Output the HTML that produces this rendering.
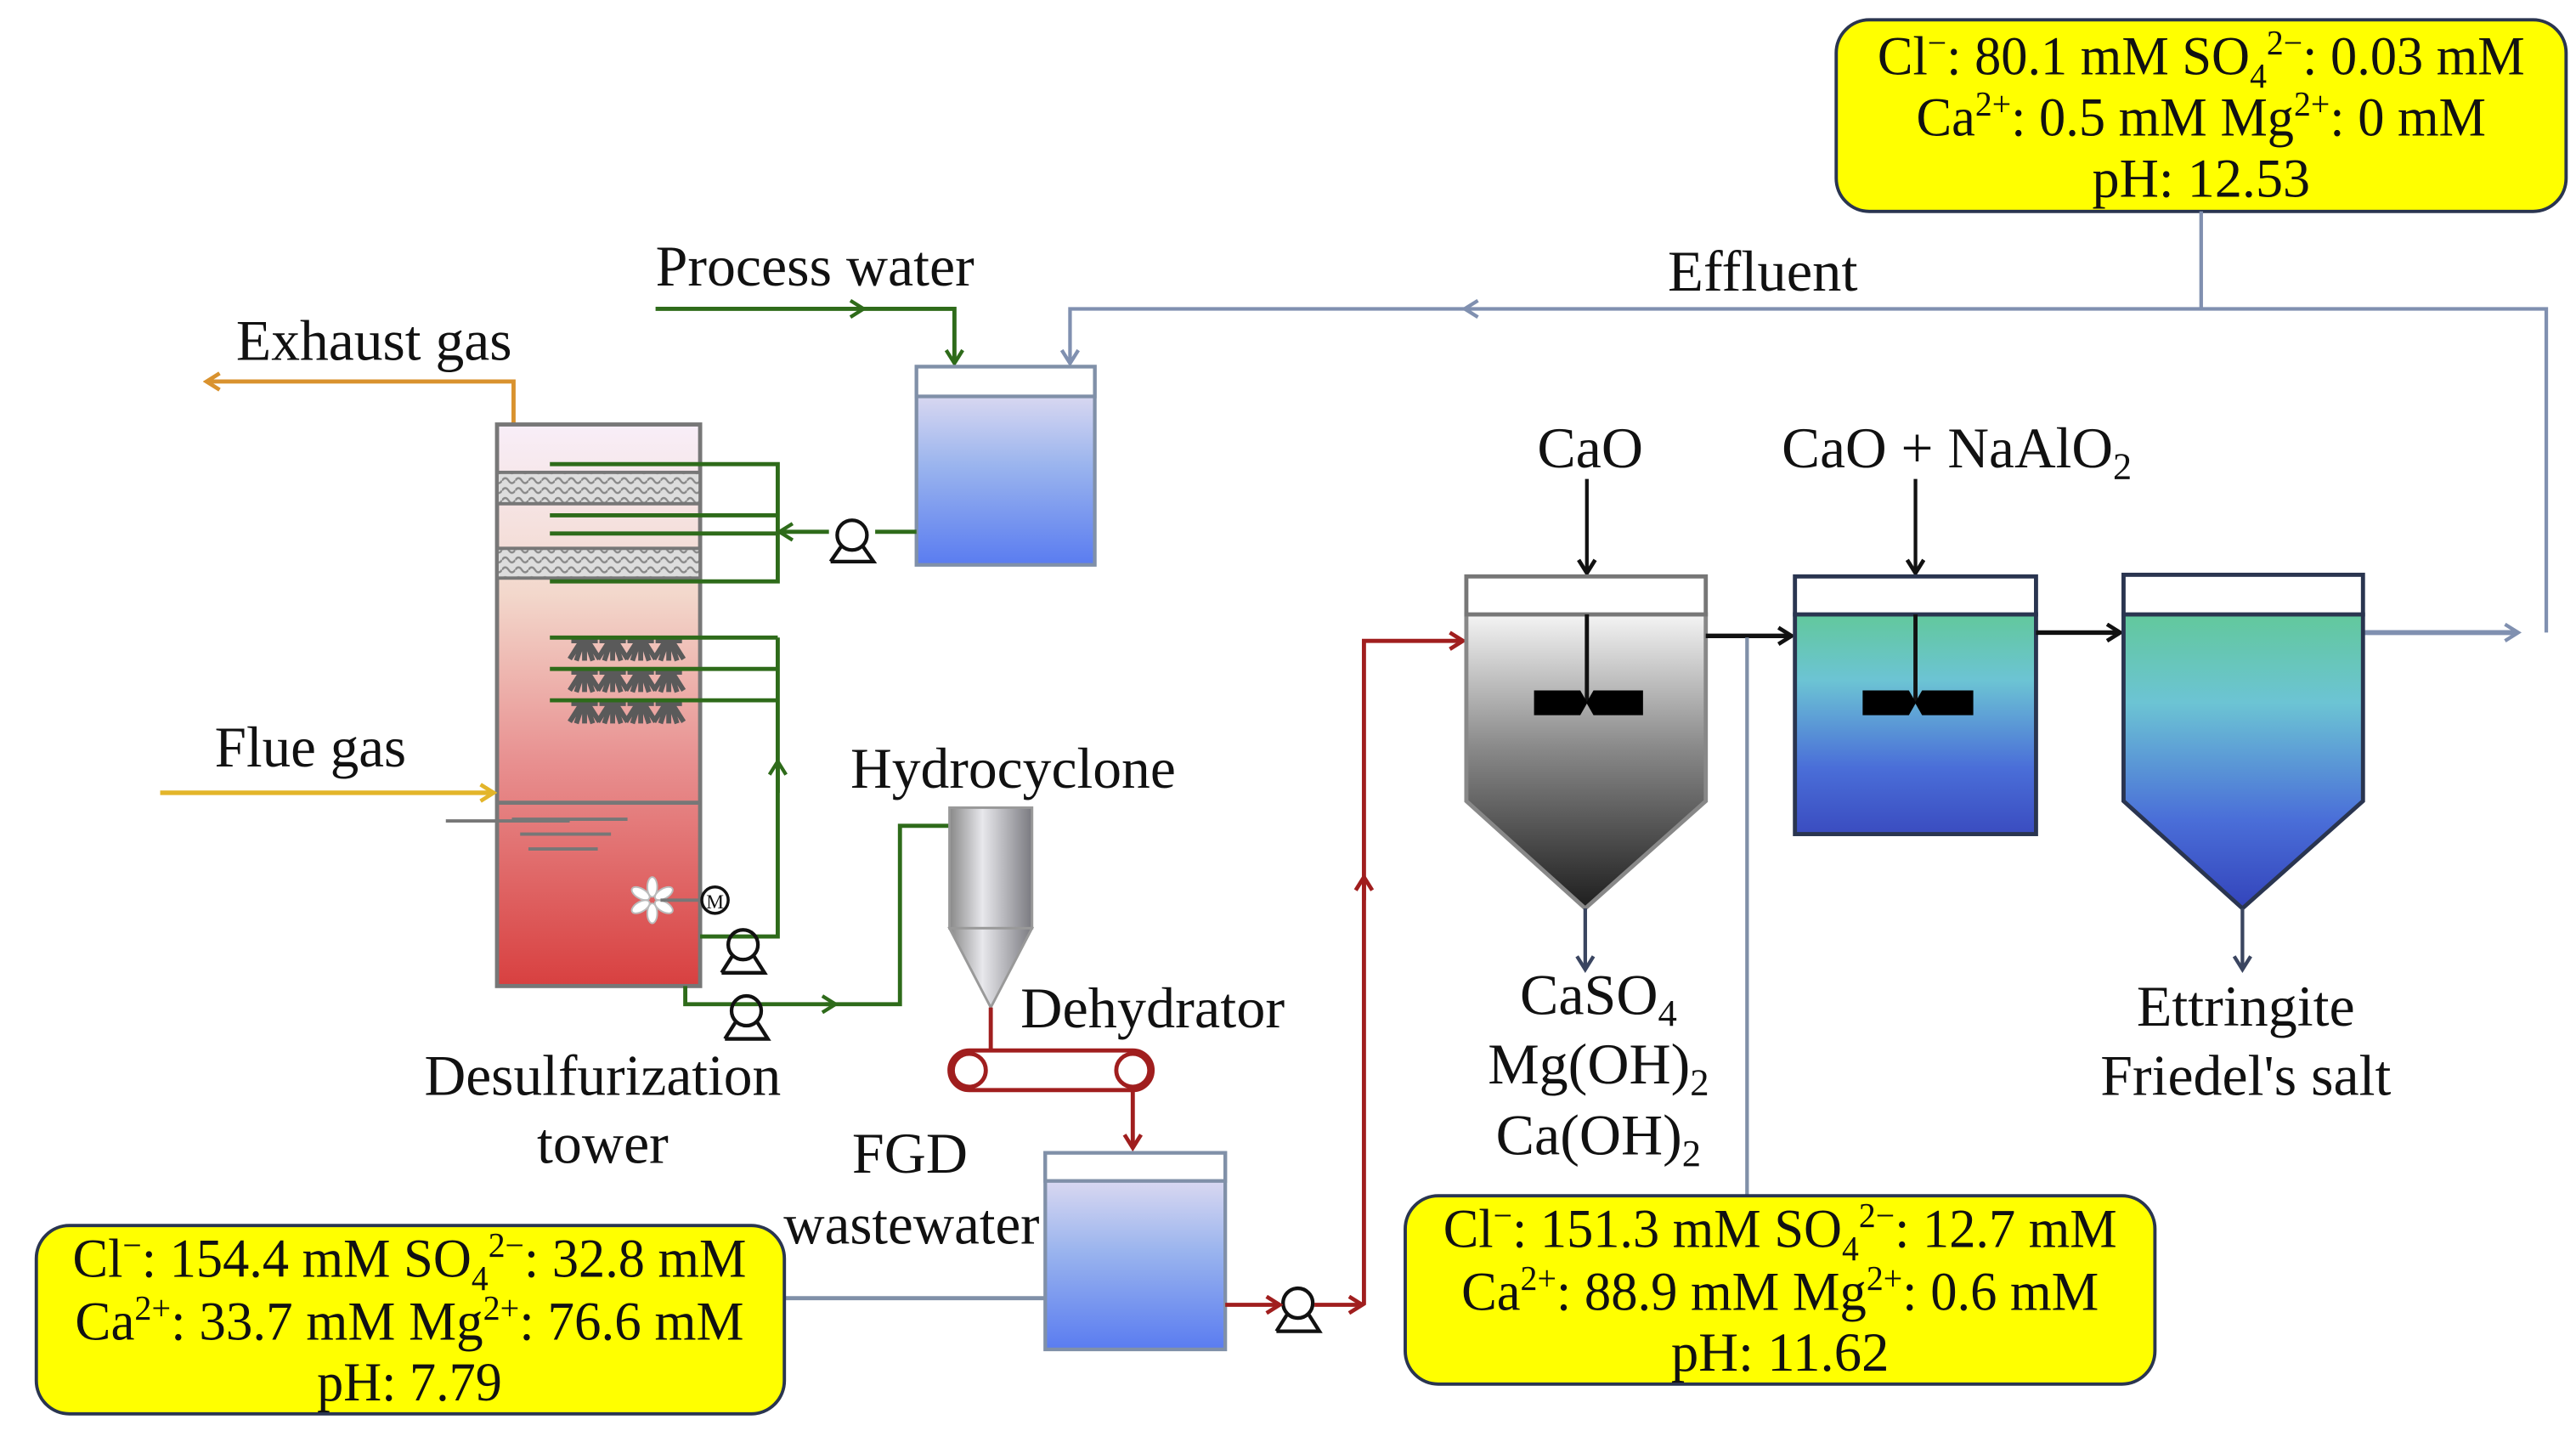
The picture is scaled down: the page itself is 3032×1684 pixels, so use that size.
<!DOCTYPE html>
<html><head><meta charset="utf-8"><style>
html,body{margin:0;padding:0;background:#fff;}
svg{display:block;}
text{font-family:"Liberation Serif",serif;fill:#111;}
</style></head><body>
<svg width="3032" height="1684" viewBox="0 0 1560 866.4" preserveAspectRatio="none" xmlns="http://www.w3.org/2000/svg">
<defs>
<marker id="ag" markerWidth="12" markerHeight="12" refX="9" refY="6" orient="auto" markerUnits="userSpaceOnUse"><path d="M2,1 L10,6 L2,11" fill="none" stroke="#2e6b1a" stroke-width="2.2"/></marker>
<marker id="ab" markerWidth="12" markerHeight="12" refX="9" refY="6" orient="auto" markerUnits="userSpaceOnUse"><path d="M2,1 L10,6 L2,11" fill="none" stroke="#8090b0" stroke-width="2.2"/></marker>
<marker id="ar" markerWidth="12" markerHeight="12" refX="9" refY="6" orient="auto" markerUnits="userSpaceOnUse"><path d="M2,1 L10,6 L2,11" fill="none" stroke="#a01e1e" stroke-width="2.4"/></marker>
<marker id="ak" markerWidth="12" markerHeight="12" refX="9" refY="6" orient="auto" markerUnits="userSpaceOnUse"><path d="M2,1 L10,6 L2,11" fill="none" stroke="#111" stroke-width="2.4"/></marker>
<marker id="ad" markerWidth="12" markerHeight="12" refX="9" refY="6" orient="auto" markerUnits="userSpaceOnUse"><path d="M2,1 L10,6 L2,11" fill="none" stroke="#3a4560" stroke-width="2.2"/></marker>
<marker id="ao" markerWidth="12" markerHeight="12" refX="9" refY="6" orient="auto" markerUnits="userSpaceOnUse"><path d="M2,1 L10,6 L2,11" fill="none" stroke="#d9922e" stroke-width="2.4"/></marker>
<marker id="ay" markerWidth="12" markerHeight="12" refX="9" refY="6" orient="auto" markerUnits="userSpaceOnUse"><path d="M2,1 L10,6 L2,11" fill="none" stroke="#e3b52a" stroke-width="2.4"/></marker>
<linearGradient id="gTower" x1="0" y1="0" x2="0" y2="1"><stop offset="0" stop-color="#f8eef8"/><stop offset="0.3" stop-color="#f3d8cc"/><stop offset="0.6" stop-color="#e89090"/><stop offset="1" stop-color="#d84040"/></linearGradient>
<linearGradient id="gTank" x1="0" y1="0" x2="0" y2="1"><stop offset="0" stop-color="#f2e6f2"/><stop offset="0.5" stop-color="#9ab4ee"/><stop offset="1" stop-color="#5a7cf0"/></linearGradient>
<linearGradient id="gGray" x1="0" y1="0" x2="0" y2="1"><stop offset="0" stop-color="#f4f4f4"/><stop offset="0.45" stop-color="#8a8a8a"/><stop offset="1" stop-color="#1e1e1e"/></linearGradient>
<linearGradient id="gBlue" x1="0" y1="0" x2="0" y2="1"><stop offset="0" stop-color="#62c89c"/><stop offset="0.3" stop-color="#6cc4d4"/><stop offset="0.7" stop-color="#4a6ed8"/><stop offset="1" stop-color="#3a4cc0"/></linearGradient>
<linearGradient id="gBlue3" x1="0" y1="0" x2="0" y2="1"><stop offset="0" stop-color="#62c89c"/><stop offset="0.3" stop-color="#6cc4d4"/><stop offset="0.7" stop-color="#4a6ed8"/><stop offset="1" stop-color="#3344bb"/></linearGradient>
<linearGradient id="gCyc" x1="0" y1="0" x2="1" y2="0"><stop offset="0" stop-color="#888"/><stop offset="0.4" stop-color="#e8e8ec"/><stop offset="1" stop-color="#7a7a80"/></linearGradient>
<pattern id="pk" width="8" height="6" patternUnits="userSpaceOnUse"><rect width="8" height="6" fill="#ddd"/><path d="M0,3 Q2,0 4,3 T8,3" fill="none" stroke="#888" stroke-width="1.2"/></pattern>
<g id="noz"><path d="M-8,1 H8 M0,0 V13 M-2,1 L-9,12 M2,1 L9,12 M-1,1 L-5,13 M1,1 L5,13" stroke="#5a5a5a" stroke-width="3" fill="none"/></g>
</defs>

<!-- top-right box -->
<rect x="1112" y="12" width="442" height="116" rx="20" fill="#ffff00" stroke="#2a3550" stroke-width="2"/>
<text x="1333" y="45" font-size="33" text-anchor="middle" textLength="392" lengthAdjust="spacingAndGlyphs">Cl<tspan font-size="21" dy="-12">−</tspan><tspan dy="12">: 80.1 mM SO</tspan><tspan font-size="21" dy="8">4</tspan><tspan font-size="21" dy="-20">2−</tspan><tspan dy="12">: 0.03 mM</tspan></text>
<text x="1333" y="82" font-size="33" text-anchor="middle" textLength="345" lengthAdjust="spacingAndGlyphs">Ca<tspan font-size="21" dy="-12">2+</tspan><tspan dy="12">: 0.5 mM Mg</tspan><tspan font-size="21" dy="-12">2+</tspan><tspan dy="12">: 0 mM</tspan></text>
<text x="1333" y="119" font-size="33" text-anchor="middle" textLength="132" lengthAdjust="spacingAndGlyphs">pH: 12.53</text>

<!-- effluent line -->
<text x="1010" y="176" font-size="35" textLength="115" lengthAdjust="spacingAndGlyphs">Effluent</text>
<path d="M1333,128 V187" stroke="#8090b0" stroke-width="2.2" fill="none"/>
<path d="M1542,383 V187 H888" stroke="#8090b0" stroke-width="2.2" fill="none" marker-end="url(#ab)"/>
<path d="M890,187 H648 V219" stroke="#8090b0" stroke-width="2.2" fill="none" marker-end="url(#ab)"/>
<path d="M1432,383 H1524" stroke="#8090b0" stroke-width="3" fill="none" marker-end="url(#ab)"/>

<!-- process water -->
<text x="397" y="173" font-size="35" textLength="193" lengthAdjust="spacingAndGlyphs">Process water</text>
<path d="M397,187 H522" stroke="#2e6b1a" stroke-width="2.5" fill="none" marker-end="url(#ag)"/>
<path d="M520,187 H578 V219" stroke="#2e6b1a" stroke-width="2.5" fill="none" marker-end="url(#ag)"/>

<!-- process tank -->
<rect x="555" y="222" width="108" height="120" fill="url(#gTank)" stroke="#8090a8" stroke-width="2.2"/>
<rect x="555" y="222" width="108" height="18" fill="#fff" stroke="#8090a8" stroke-width="2.2"/>

<!-- exhaust -->
<text x="143" y="218" font-size="35" textLength="167" lengthAdjust="spacingAndGlyphs">Exhaust gas</text>
<path d="M311,258 V231 H126" stroke="#d9922e" stroke-width="2.5" fill="none" marker-end="url(#ao)"/>

<!-- tower -->
<rect x="301" y="257" width="123" height="340" fill="url(#gTower)" stroke="#777" stroke-width="2.5"/>
<rect x="301" y="286" width="123" height="19" fill="url(#pk)" stroke="#777" stroke-width="2"/>
<rect x="301" y="332" width="123" height="18" fill="url(#pk)" stroke="#777" stroke-width="2"/>
<line x1="301" y1="486" x2="424" y2="486" stroke="#777" stroke-width="2.5"/>
<line x1="270" y1="497" x2="345" y2="497" stroke="#777" stroke-width="2"/>
<line x1="310" y1="496" x2="380" y2="496" stroke="#777" stroke-width="2"/>
<line x1="315" y1="505" x2="370" y2="505" stroke="#777" stroke-width="2"/>
<line x1="320" y1="514" x2="362" y2="514" stroke="#777" stroke-width="2"/>
<!-- sprays -->
<use href="#noz" x="354" y="387"/><use href="#noz" x="371" y="387"/><use href="#noz" x="388" y="387"/><use href="#noz" x="405" y="387"/>
<use href="#noz" x="354" y="406"/><use href="#noz" x="371" y="406"/><use href="#noz" x="388" y="406"/><use href="#noz" x="405" y="406"/>
<use href="#noz" x="354" y="425"/><use href="#noz" x="371" y="425"/><use href="#noz" x="388" y="425"/><use href="#noz" x="405" y="425"/>
<!-- green pipes -->
<g stroke="#2e6b1a" stroke-width="2.5" fill="none">
<path d="M333,281 H471 V352 H333"/>
<path d="M333,312 H471 M333,323 H471"/>
<path d="M333,386 H471 M333,405 H471 M333,424 H471"/>
<path d="M471,386 V567 H424"/>
<path d="M555,322 H530"/>
<path d="M502,322 H473" marker-end="url(#ag)"/>
<path d="M471,480 V462" marker-end="url(#ag)"/>
<path d="M415,597 V608 H505" marker-end="url(#ag)"/>
<path d="M500,608 H545 V500 H576"/>
</g>
<!-- pumps -->
<g fill="none" stroke="#111" stroke-width="2.2">
<circle cx="516" cy="324" r="9"/><path d="M503,340 H529 L522,330 M503,340 L510,330"/>
<circle cx="450" cy="572" r="9"/><path d="M437,589 H463 L456,578 M437,589 L444,578"/>
<circle cx="452" cy="612" r="9"/><path d="M439,629 H465 L458,618 M439,629 L446,618"/>
<circle cx="786" cy="789" r="9"/><path d="M773,806 H799 L792,795 M773,806 L780,795"/>
</g>
<!-- agitator + M -->
<g fill="#fff" stroke="#bbb" stroke-width="1"><ellipse cx="395" cy="537" rx="3" ry="6"/><ellipse cx="395" cy="553" rx="3" ry="6"/><ellipse cx="388" cy="541" rx="6" ry="3" transform="rotate(30 388 541)"/><ellipse cx="402" cy="541" rx="6" ry="3" transform="rotate(-30 402 541)"/><ellipse cx="388" cy="549" rx="6" ry="3" transform="rotate(-30 388 549)"/><ellipse cx="402" cy="549" rx="6" ry="3" transform="rotate(30 402 549)"/></g>
<line x1="400" y1="545" x2="425" y2="545" stroke="#777" stroke-width="2"/>
<circle cx="433" cy="545" r="8" fill="#fff" stroke="#111" stroke-width="1.8"/>
<text x="433" y="550" font-size="12" text-anchor="middle">M</text>

<!-- flue gas -->
<text x="130" y="464" font-size="35" textLength="116" lengthAdjust="spacingAndGlyphs">Flue gas</text>
<path d="M97,480 H298" stroke="#e3b52a" stroke-width="2.8" fill="none" marker-end="url(#ay)"/>

<!-- hydrocyclone -->
<text x="515" y="477" font-size="35" textLength="197" lengthAdjust="spacingAndGlyphs">Hydrocyclone</text>
<rect x="575" y="489" width="50" height="73" fill="url(#gCyc)" stroke="#999" stroke-width="1.5"/>
<path d="M575,562 L625,562 L600,610 Z" fill="url(#gCyc)" stroke="#999" stroke-width="1.5"/>

<!-- dehydrator -->
<text x="618" y="622" font-size="35" textLength="160" lengthAdjust="spacingAndGlyphs">Dehydrator</text>
<line x1="600" y1="610" x2="600" y2="636" stroke="#a01e1e" stroke-width="2.5"/>
<rect x="575" y="636" width="123" height="24" rx="12" fill="none" stroke="#a01e1e" stroke-width="2.5"/>
<circle cx="587" cy="648" r="10" fill="none" stroke="#a01e1e" stroke-width="2.5"/>
<circle cx="686" cy="648" r="10" fill="none" stroke="#a01e1e" stroke-width="2.5"/>
<path d="M686,660 V694" stroke="#a01e1e" stroke-width="2.5" fill="none" marker-end="url(#ar)"/>

<!-- labels -->
<text x="365" y="663" font-size="35" text-anchor="middle" textLength="216" lengthAdjust="spacingAndGlyphs">Desulfurization</text>
<text x="365" y="704" font-size="35" text-anchor="middle">tower</text>
<text x="551" y="710" font-size="35" text-anchor="middle">FGD</text>
<text x="552" y="753" font-size="35" text-anchor="middle" textLength="155" lengthAdjust="spacingAndGlyphs">wastewater</text>

<!-- FGD tank -->
<rect x="633" y="698" width="109" height="119" fill="url(#gTank)" stroke="#8090a8" stroke-width="2.2"/>
<rect x="633" y="698" width="109" height="17" fill="#fff" stroke="#8090a8" stroke-width="2.2"/>
<line x1="475" y1="786" x2="633" y2="786" stroke="#8090a8" stroke-width="2.5"/>

<!-- red line to tank1 -->
<g stroke="#a01e1e" stroke-width="2.5" fill="none">
<path d="M742,790 H774" marker-end="url(#ar)"/>
<path d="M796,790 H824" marker-end="url(#ar)"/>
<path d="M826,790 V388 H885" marker-end="url(#ar)"/>
<path d="M826,545 V532" marker-end="url(#ar)"/>
</g>

<!-- bottom-left box -->
<rect x="22" y="742" width="453" height="114" rx="20" fill="#ffff00" stroke="#2a3550" stroke-width="2"/>
<text x="248" y="773" font-size="33" text-anchor="middle" textLength="408" lengthAdjust="spacingAndGlyphs">Cl<tspan font-size="21" dy="-12">−</tspan><tspan dy="12">: 154.4 mM SO</tspan><tspan font-size="21" dy="8">4</tspan><tspan font-size="21" dy="-20">2−</tspan><tspan dy="12">: 32.8 mM</tspan></text>
<text x="248" y="811" font-size="33" text-anchor="middle" textLength="405" lengthAdjust="spacingAndGlyphs">Ca<tspan font-size="21" dy="-12">2+</tspan><tspan dy="12">: 33.7 mM Mg</tspan><tspan font-size="21" dy="-12">2+</tspan><tspan dy="12">: 76.6 mM</tspan></text>
<text x="248" y="848" font-size="33" text-anchor="middle" textLength="112" lengthAdjust="spacingAndGlyphs">pH: 7.79</text>

<!-- tank1 -->
<text x="963" y="283" font-size="35" text-anchor="middle">CaO</text>
<path d="M961,290 V346" stroke="#111" stroke-width="2.2" fill="none" marker-end="url(#ak)"/>
<path d="M888,372 H1033 V485 L960,550 L888,485 Z" fill="url(#gGray)" stroke="#888" stroke-width="2.5"/>
<rect x="888" y="349" width="145" height="23" fill="#fff" stroke="#777" stroke-width="2.5"/>
<line x1="961" y1="372" x2="961" y2="425" stroke="#111" stroke-width="2.5"/>
<path d="M929,418 H957 L961,425 L965,418 H995 V433 H965 L961,426 L957,433 H929 Z" fill="#000"/>
<path d="M960,550 V586" stroke="#3a4560" stroke-width="2.2" fill="none" marker-end="url(#ad)"/>
<text x="968" y="614" font-size="35" text-anchor="middle">CaSO<tspan font-size="23" dy="7">4</tspan></text>
<text x="968" y="656" font-size="35" text-anchor="middle">Mg(OH)<tspan font-size="23" dy="7">2</tspan></text>
<text x="968" y="699" font-size="35" text-anchor="middle">Ca(OH)<tspan font-size="23" dy="7">2</tspan></text>

<!-- connector tank1->tank2 -->
<path d="M1033,385 H1084" stroke="#111" stroke-width="2.8" fill="none" marker-end="url(#ak)"/>
<line x1="1058" y1="386" x2="1058" y2="724" stroke="#8090a8" stroke-width="2.2"/>

<!-- tank2 -->
<text x="1185" y="283" font-size="35" text-anchor="middle" textLength="212" lengthAdjust="spacingAndGlyphs">CaO + NaAlO<tspan font-size="23" dy="7">2</tspan></text>
<path d="M1160,290 V346" stroke="#111" stroke-width="2.2" fill="none" marker-end="url(#ak)"/>
<rect x="1087" y="372" width="146" height="133" fill="url(#gBlue)" stroke="#2a3550" stroke-width="2.5"/>
<rect x="1087" y="349" width="146" height="23" fill="#fff" stroke="#2a3550" stroke-width="2.5"/>
<line x1="1160" y1="372" x2="1160" y2="425" stroke="#111" stroke-width="2.5"/>
<path d="M1128,418 H1156 L1160,425 L1164,418 H1195 V433 H1164 L1160,426 L1156,433 H1128 Z" fill="#000"/>
<path d="M1233,383 H1283" stroke="#111" stroke-width="2.8" fill="none" marker-end="url(#ak)"/>

<!-- tank3 -->
<path d="M1286,372 H1431 V485 L1358,550 L1286,485 Z" fill="url(#gBlue3)" stroke="#2a3550" stroke-width="2.5"/>
<rect x="1286" y="348" width="145" height="24" fill="#fff" stroke="#2a3550" stroke-width="2.5"/>
<path d="M1358,550 V586" stroke="#3a4560" stroke-width="2.2" fill="none" marker-end="url(#ad)"/>
<text x="1360" y="621" font-size="35" text-anchor="middle">Ettringite</text>
<text x="1360" y="663" font-size="35" text-anchor="middle" textLength="176" lengthAdjust="spacingAndGlyphs">Friedel's salt</text>

<!-- bottom-mid box -->
<rect x="851" y="724" width="454" height="114" rx="20" fill="#ffff00" stroke="#2a3550" stroke-width="2"/>
<text x="1078" y="755" font-size="33" text-anchor="middle" textLength="408" lengthAdjust="spacingAndGlyphs">Cl<tspan font-size="21" dy="-12">−</tspan><tspan dy="12">: 151.3 mM SO</tspan><tspan font-size="21" dy="8">4</tspan><tspan font-size="21" dy="-20">2−</tspan><tspan dy="12">: 12.7 mM</tspan></text>
<text x="1078" y="793" font-size="33" text-anchor="middle" textLength="386" lengthAdjust="spacingAndGlyphs">Ca<tspan font-size="21" dy="-12">2+</tspan><tspan dy="12">: 88.9 mM Mg</tspan><tspan font-size="21" dy="-12">2+</tspan><tspan dy="12">: 0.6 mM</tspan></text>
<text x="1078" y="830" font-size="33" text-anchor="middle" textLength="132" lengthAdjust="spacingAndGlyphs">pH: 11.62</text>
</svg>
</body></html>
